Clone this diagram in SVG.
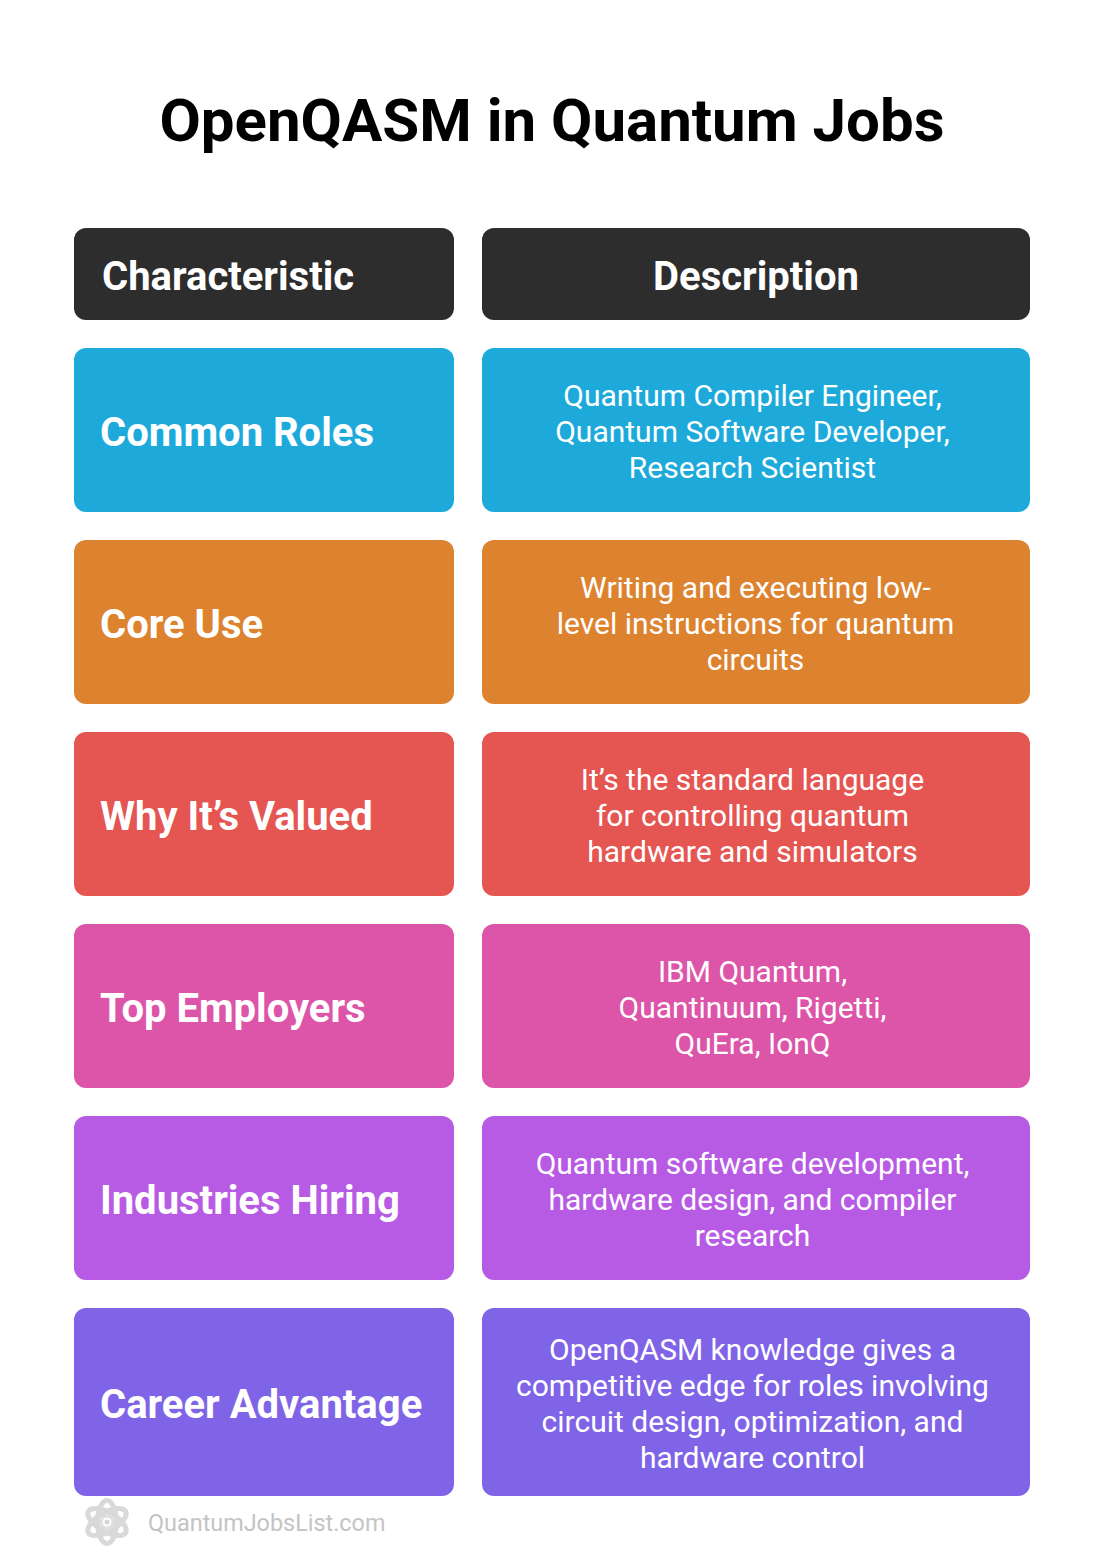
<svg xmlns="http://www.w3.org/2000/svg" width="1104" height="1560" viewBox="0 0 1104 1560">
<style>
text{font-family:Roboto,"Liberation Sans",sans-serif}
.t{font-size:60px;font-weight:700;fill:#000;text-anchor:middle}
.h{font-size:40px;font-weight:700;fill:#fff}
.d{font-size:30px;font-weight:400;fill:#fff;text-anchor:middle}
.m{text-anchor:middle}
.w{font-size:23.4px;fill:#c4c4c4}
.a{fill:none;stroke:#d9d9d9;stroke-width:5}
</style>
<rect width="1104" height="1560" fill="#fff"/>
<text class="t" x="552" y="141">OpenQASM in Quantum Jobs</text>
<g id="header-characteristic"><rect x="74" y="228" width="380" height="92" rx="12" fill="#2d2d2d"/><text class="h" x="102" y="290">Characteristic</text></g>
<g id="header-description"><rect x="482" y="228" width="548" height="92" rx="12" fill="#2d2d2d"/><text class="h m" x="756" y="290">Description</text></g>
<g id="row-common-roles-label"><rect x="74" y="348" width="380" height="164" rx="12" fill="#1daadb"/><text class="h" x="100" y="446">Common Roles</text></g>
<g id="row-common-roles-desc"><rect x="482" y="348" width="548" height="164" rx="12" fill="#1daadb"/><text class="d" x="752.500" y="406">Quantum Compiler Engineer,</text><text class="d" x="752.500" y="442">Quantum Software Developer,</text><text class="d" x="752.500" y="478">Research Scientist</text></g>
<g id="row-core-use-label"><rect x="74" y="540" width="380" height="164" rx="12" fill="#dd8330"/><text class="h" x="100" y="638">Core Use</text></g>
<g id="row-core-use-desc"><rect x="482" y="540" width="548" height="164" rx="12" fill="#dd8330"/><text class="d" x="755.500" y="598">Writing and executing low-</text><text class="d" x="755.500" y="634">level instructions for quantum</text><text class="d" x="755.500" y="670">circuits</text></g>
<g id="row-why-valued-label"><rect x="74" y="732" width="380" height="164" rx="12" fill="#e55652"/><text class="h" x="100" y="830">Why It’s Valued</text></g>
<g id="row-why-valued-desc"><rect x="482" y="732" width="548" height="164" rx="12" fill="#e55652"/><text class="d" x="752.500" y="790">It’s the standard language</text><text class="d" x="752.500" y="826">for controlling quantum</text><text class="d" x="752.500" y="862">hardware and simulators</text></g>
<g id="row-top-employers-label"><rect x="74" y="924" width="380" height="164" rx="12" fill="#dd55a8"/><text class="h" x="100" y="1022">Top Employers</text></g>
<g id="row-top-employers-desc"><rect x="482" y="924" width="548" height="164" rx="12" fill="#dd55a8"/><text class="d" x="752.500" y="982">IBM Quantum,</text><text class="d" x="752.500" y="1018">Quantinuum, Rigetti,</text><text class="d" x="752.500" y="1054">QuEra, IonQ</text></g>
<g id="row-industries-label"><rect x="74" y="1116" width="380" height="164" rx="12" fill="#b85be4"/><text class="h" x="100" y="1214">Industries Hiring</text></g>
<g id="row-industries-desc"><rect x="482" y="1116" width="548" height="164" rx="12" fill="#b85be4"/><text class="d" x="752.500" y="1174">Quantum software development,</text><text class="d" x="752.500" y="1210">hardware design, and compiler</text><text class="d" x="752.500" y="1246">research</text></g>
<g id="row-career-label"><rect x="74" y="1308" width="380" height="188" rx="12" fill="#8064e8"/><text class="h" x="100" y="1418">Career Advantage</text></g>
<g id="row-career-desc"><rect x="482" y="1308" width="548" height="188" rx="12" fill="#8064e8"/><text class="d" x="752.500" y="1360">OpenQASM knowledge gives a</text><text class="d" x="752.500" y="1396">competitive edge for roles involving</text><text class="d" x="752.500" y="1432">circuit design, optimization, and</text><text class="d" x="752.500" y="1468">hardware control</text></g>
<g id="watermark">
<ellipse class="a" cx="107" cy="1522" rx="9.500" ry="21.500"/>
<ellipse class="a" cx="107" cy="1522" rx="9.500" ry="21.500" transform="rotate(60 107 1522)"/>
<ellipse class="a" cx="107" cy="1522" rx="9.500" ry="21.500" transform="rotate(-60 107 1522)"/>
<circle cx="107" cy="1522" r="6" fill="#fff" stroke="#dedede" stroke-width="3"/>
<circle cx="107" cy="1522" r="2.500" fill="#d4d4d4"/>
<text class="w" x="148" y="1531">QuantumJobsList.com</text>
</g>
</svg>
